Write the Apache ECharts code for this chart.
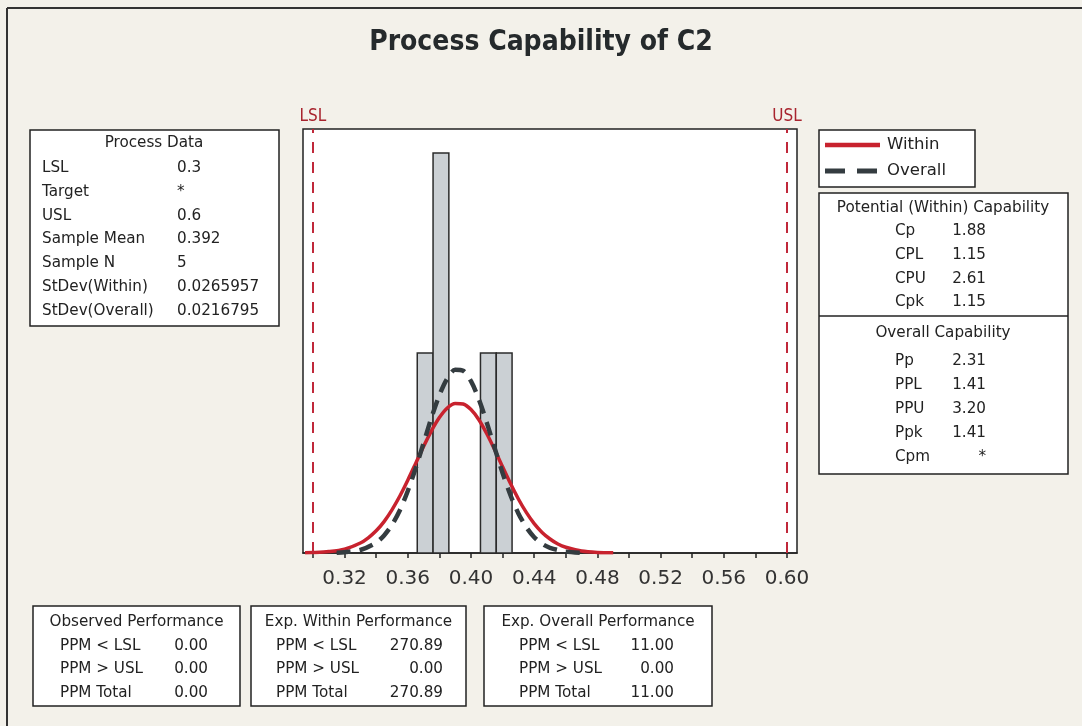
<!DOCTYPE html>
<html>
<head>
<meta charset="utf-8">
<title>Process Capability of C2</title>
<script src="https://cdn.jsdelivr.net/npm/echarts@6/dist/echarts.min.js"></script>
<style>
  html, body { margin: 0; padding: 0; background: #f3f1ea; }
  #main { width: 1082px; height: 726px; }
</style>
</head>
<body>
<div id="main"></div>
<script>
// histogram bins (edges + counts)
const binLo = [0.366, 0.376, 0.406, 0.416];
const binHi = [0.376, 0.386, 0.416, 0.426];
const binCount = [1, 2, 1, 1];

// fitted curves (scaled to counts)
const withinX = [0.295, 0.30, 0.31, 0.32, 0.33, 0.335, 0.34, 0.345, 0.35, 0.355, 0.36, 0.365, 0.37, 0.375, 0.38, 0.385, 0.39, 0.395, 0.40, 0.405, 0.41, 0.415, 0.42, 0.425, 0.43, 0.435, 0.44, 0.445, 0.45, 0.455, 0.46, 0.47, 0.48, 0.49];
const withinY = [0.001, 0.002, 0.007, 0.019, 0.050, 0.076, 0.111, 0.157, 0.216, 0.285, 0.364, 0.448, 0.533, 0.611, 0.677, 0.725, 0.748, 0.745, 0.717, 0.666, 0.596, 0.516, 0.431, 0.347, 0.270, 0.203, 0.147, 0.103, 0.070, 0.045, 0.029, 0.010, 0.003, 0.001];
const overallX = [0.315, 0.32, 0.33, 0.34, 0.345, 0.35, 0.355, 0.36, 0.365, 0.37, 0.375, 0.38, 0.385, 0.39, 0.395, 0.40, 0.405, 0.41, 0.415, 0.42, 0.425, 0.43, 0.435, 0.44, 0.445, 0.45, 0.46, 0.47];
const overallY = [0.001, 0.004, 0.015, 0.052, 0.088, 0.141, 0.214, 0.310, 0.424, 0.550, 0.677, 0.789, 0.873, 0.916, 0.911, 0.859, 0.768, 0.652, 0.524, 0.400, 0.289, 0.198, 0.129, 0.079, 0.046, 0.026, 0.007, 0.001];

// spec limits
const specNames = ['LSL', 'USL'];
const specValues = [0.3, 0.6];

// axis ticks
const tickValues = [0.30, 0.32, 0.34, 0.36, 0.38, 0.40, 0.42, 0.44, 0.46, 0.48, 0.50, 0.52, 0.54, 0.56, 0.58, 0.60];
const labelValues = [0.32, 0.36, 0.40, 0.44, 0.48, 0.52, 0.56, 0.60];

// text tables
const legendNames = ['Within', 'Overall'];
const processLabels = ['LSL', 'Target', 'USL', 'Sample Mean', 'Sample N', 'StDev(Within)', 'StDev(Overall)'];
const processValues = ['0.3', '*', '0.6', '0.392', '5', '0.0265957', '0.0216795'];
const withinCapLabels = ['Cp', 'CPL', 'CPU', 'Cpk'];
const withinCapValues = ['1.88', '1.15', '2.61', '1.15'];
const overallCapLabels = ['Pp', 'PPL', 'PPU', 'Ppk', 'Cpm'];
const overallCapValues = ['2.31', '1.41', '3.20', '1.41', '*'];
const ppmLabels = ['PPM < LSL', 'PPM > USL', 'PPM Total'];
const observedPPM = ['0.00', '0.00', '0.00'];
const expWithinPPM = ['270.89', '0.00', '270.89'];
const expOverallPPM = ['11.00', '0.00', '11.00'];

const FONT = '"DejaVu Sans", sans-serif';
const TFONT = '"DejaVu Sans Condensed", "DejaVu Sans", sans-serif';
const INK = '#222';
const RED = '#c8222e';
const DARK = '#343c40';

function txt(x, y, s, align, size) {
  return {
    type: 'text', x: x, y: y,
    style: { text: s, fill: INK, font: (size || 15.2) + 'px ' + FONT, textAlign: align || 'left', textVerticalAlign: 'middle' }
  };
}
function box(x, y, w, h) {
  return { type: 'rect', shape: { x: x, y: y, width: w, height: h }, style: { fill: '#fff', stroke: INK, lineWidth: 1.5 } };
}

let graphics = [];
// outer frame
graphics.push({ type: 'line', shape: { x1: 7, y1: 8, x2: 1082, y2: 8 }, style: { stroke: '#333', lineWidth: 2 } });
graphics.push({ type: 'line', shape: { x1: 7, y1: 8, x2: 7, y2: 726 }, style: { stroke: '#333', lineWidth: 2 } });

// legend
graphics.push(box(819, 130, 156, 57));
graphics.push({ type: 'line', shape: { x1: 825, y1: 145, x2: 880, y2: 145 }, style: { stroke: RED, lineWidth: 4.5 } });
graphics.push({ type: 'line', shape: { x1: 825, y1: 171, x2: 877, y2: 171 }, style: { stroke: DARK, lineWidth: 5, lineDash: [20, 12] } });
graphics.push(txt(887, 145, legendNames[0], 'left', 16.5));
graphics.push(txt(887, 171, legendNames[1], 'left', 16.5));

// process data
graphics.push(box(30, 130, 249, 196));
graphics.push(txt(154, 143, 'Process Data', 'center'));
processLabels.forEach((l, i) => {
  graphics.push(txt(42, 168 + i * 23.8, l));
  graphics.push(txt(177, 168 + i * 23.8, processValues[i]));
});

// capability
graphics.push(box(819, 193, 249, 281));
graphics.push({ type: 'line', shape: { x1: 819, y1: 316, x2: 1068, y2: 316 }, style: { stroke: INK, lineWidth: 1.5 } });
graphics.push(txt(943, 208, 'Potential (Within) Capability', 'center'));
withinCapLabels.forEach((l, i) => {
  graphics.push(txt(895, 231 + i * 23.8, l));
  graphics.push(txt(986, 231 + i * 23.8, withinCapValues[i], 'right'));
});
graphics.push(txt(943, 333, 'Overall Capability', 'center'));
overallCapLabels.forEach((l, i) => {
  graphics.push(txt(895, 361 + i * 24, l));
  graphics.push(txt(986, 361 + i * 24, overallCapValues[i], 'right'));
});

// performance boxes
const perfBoxes = [
  { x: 33, w: 207, title: 'Observed Performance', lx: 60, vx: 208, vals: observedPPM },
  { x: 251, w: 215, title: 'Exp. Within Performance', lx: 276, vx: 443, vals: expWithinPPM },
  { x: 484, w: 228, title: 'Exp. Overall Performance', lx: 519, vx: 674, vals: expOverallPPM }
];
perfBoxes.forEach(b => {
  graphics.push(box(b.x, 606, b.w, 100));
  graphics.push(txt(b.x + b.w / 2, 622, b.title, 'center'));
  ppmLabels.forEach((l, i) => {
    graphics.push(txt(b.lx, 646 + i * 23.5, l));
    graphics.push(txt(b.vx, 646 + i * 23.5, b.vals[i], 'right'));
  });
});

const chart = echarts.init(document.getElementById('main'));
chart.setOption({
  backgroundColor: '#f3f1ea',
  animation: false,
  title: {
    text: 'Process Capability of C2',
    left: 'center', top: 24,
    textStyle: { fontFamily: TFONT, fontWeight: 'bold', fontSize: 28, color: '#252a2c' }
  },
  grid: {
    left: 303, right: 285, top: 129, bottom: 173,
    show: true, backgroundColor: '#fff', borderColor: INK, borderWidth: 1.5
  },
  xAxis: {
    type: 'value', min: 0.2937, max: 0.6063,
    splitLine: { show: false },
    axisLine: { show: true, lineStyle: { color: INK, width: 1.5 } },
    axisTick: { show: true, customValues: tickValues, length: 5, lineStyle: { color: INK, width: 1.5 } },
    axisLabel: {
      customValues: labelValues, margin: 16,
      formatter: v => v.toFixed(2),
      fontFamily: FONT, fontSize: 20, color: '#333'
    }
  },
  yAxis: { type: 'value', min: 0, max: 2.12, show: false },
  graphic: graphics,
  series: [
    {
      type: 'custom', name: 'hist', z: 1,
      data: binLo.map((lo, i) => [lo, binHi[i], binCount[i]]),
      renderItem: function (params, api) {
        const a = api.coord([api.value(0), 0]);
        const b = api.coord([api.value(1), api.value(2)]);
        return {
          type: 'rect',
          shape: { x: a[0], y: b[1], width: b[0] - a[0], height: a[1] - b[1] },
          style: { fill: '#cbd0d4', stroke: '#2b2b2b', lineWidth: 1.5 }
        };
      }
    },
    {
      type: 'line', name: legendNames[0], z: 3,
      data: withinX.map((x, i) => [x, withinY[i]]),
      smooth: 0.3, showSymbol: false, symbol: 'none',
      lineStyle: { color: RED, width: 3.5 },
      markLine: {
        silent: true, symbol: 'none',
        lineStyle: { color: '#c0283a', width: 2, type: [11, 9] },
        label: { show: true, position: 'end', formatter: '{b}', distance: 4, fontFamily: TFONT, fontSize: 17, color: '#a8242e' },
        data: specNames.map((n, i) => ({ name: n, xAxis: specValues[i] }))
      }
    },
    {
      type: 'line', name: legendNames[1], z: 4,
      data: overallX.map((x, i) => [x, overallY[i]]),
      smooth: 0.3, showSymbol: false, symbol: 'none',
      lineStyle: { color: DARK, width: 4.5, type: [14, 9] }
    }
  ]
});
</script>
</body>
</html>
